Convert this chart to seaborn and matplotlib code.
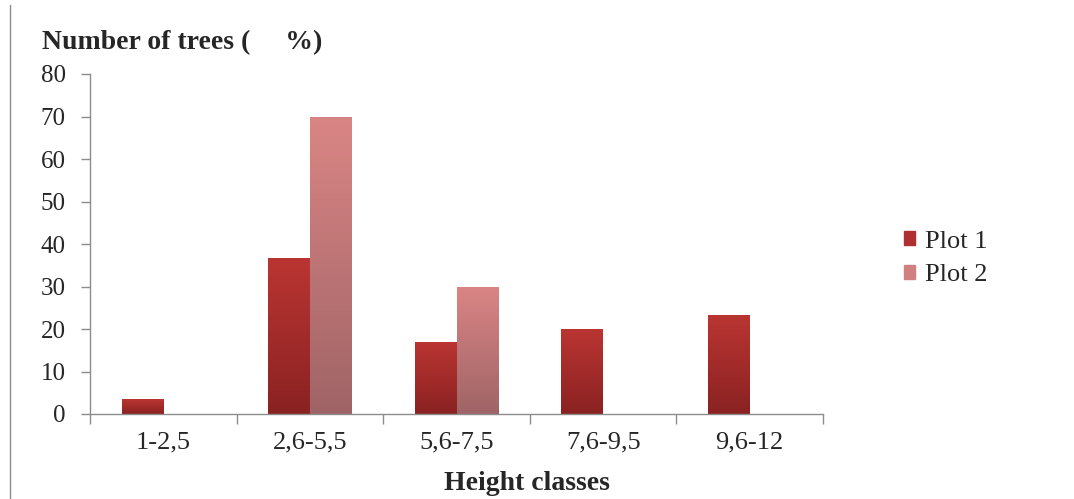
import numpy as np
import pandas as pd
import matplotlib
matplotlib.use('Agg')
import matplotlib.pyplot as plt
import seaborn as sns
from matplotlib.lines import Line2D
from matplotlib.colors import LinearSegmentedColormap

# 数据
classes = ['1-2,5', '2,6-5,5', '5,6-7,5', '7,6-9,5', '9,6-12']
plot1 = [3.5, 36.7, 17, 20, 23.3]
plot2 = [0, 70, 30, 0, 0]
series = ['Plot 1', 'Plot 2']

df = pd.DataFrame({
    'cls': classes * 2,
    'val': plot1 + plot2,
    'plot': [series[0]] * len(classes) + [series[1]] * len(classes),
})

sns.set_style('white')
plt.rcParams['font.family'] = ['Liberation Serif', 'DejaVu Serif']

fig = plt.figure(figsize=(10.74, 4.99), dpi=100)
ax = fig.add_axes([90 / 1074, 1 - 414 / 499, (823 - 90) / 1074, (414 - 74) / 499])

pal = {'Plot 1': '#A32B2A', 'Plot 2': '#C47576'}
sns.barplot(data=df, x='cls', y='val', hue='plot', palette=pal, width=0.57,
            dodge=True, ax=ax, legend=False, saturation=1)

# 渐变填充
grads = {
    'Plot 1': LinearSegmentedColormap.from_list('g1', ['#8A2222', '#BA3532']),
    'Plot 2': LinearSegmentedColormap.from_list('g2', ['#A06466', '#DA8585']),
}
grad = np.linspace(0, 1, 256).reshape(-1, 1)
for cont, name in zip(ax.containers, series):
    for p in cont.patches:
        x0, y0 = p.get_x(), p.get_y()
        w, h = p.get_width(), p.get_height()
        if h <= 0:
            continue
        p.set_facecolor('none')
        p.set_edgecolor('none')
        im = ax.imshow(grad, cmap=grads[name], origin='lower', aspect='auto',
                       extent=[x0, x0 + w, y0, y0 + h], zorder=2)
        im.set_clip_path(p)

ax.set_xlim(-0.5, len(classes) - 0.5)
ax.set_ylim(0, 80)
ax.set_yticks(range(0, 81, 10))
ax.set_xlabel('')
ax.set_ylabel('')

for s in ['top', 'right']:
    ax.spines[s].set_visible(False)
for s in ['left', 'bottom']:
    ax.spines[s].set_color('#8C8C8C')
    ax.spines[s].set_linewidth(1)

ax.tick_params(axis='y', which='major', left=True, length=6.5, width=1,
               color='#8C8C8C', labelsize=18, pad=11)
ax.set_xticks(np.arange(-0.5, len(classes), 1), minor=True)
ax.tick_params(axis='x', which='major', bottom=False, labelsize=19, pad=9)
ax.tick_params(axis='x', which='minor', bottom=True, length=7, width=1,
               color='#8C8C8C')

handles = [plt.Rectangle((0, 0), 1, 1, color=c) for c in ['#AE3030', '#D08080']]
fig.legend(handles, series, loc='upper left', bbox_to_anchor=(893 / 1074, 1 - 220 / 499),
           frameon=False, fontsize=19, handlelength=0.45, handleheight=0.45,
           handletextpad=0.35, labelspacing=0.45, borderaxespad=0)

fig.text(42 / 1074, 1 - 43 / 499, 'Number of trees (     %)', fontsize=20,
         fontweight='bold', va='center', ha='left')
fig.text(527 / 1074, 1 - 484 / 499, 'Height classes', fontsize=20,
         fontweight='bold', va='center', ha='center')

fig.add_artist(Line2D([10 / 1074, 10 / 1074], [0, 1 - 5 / 499],
                      color='#8C8C8C', lw=1))

plt.savefig('out.png', dpi=100)
plt.close()
